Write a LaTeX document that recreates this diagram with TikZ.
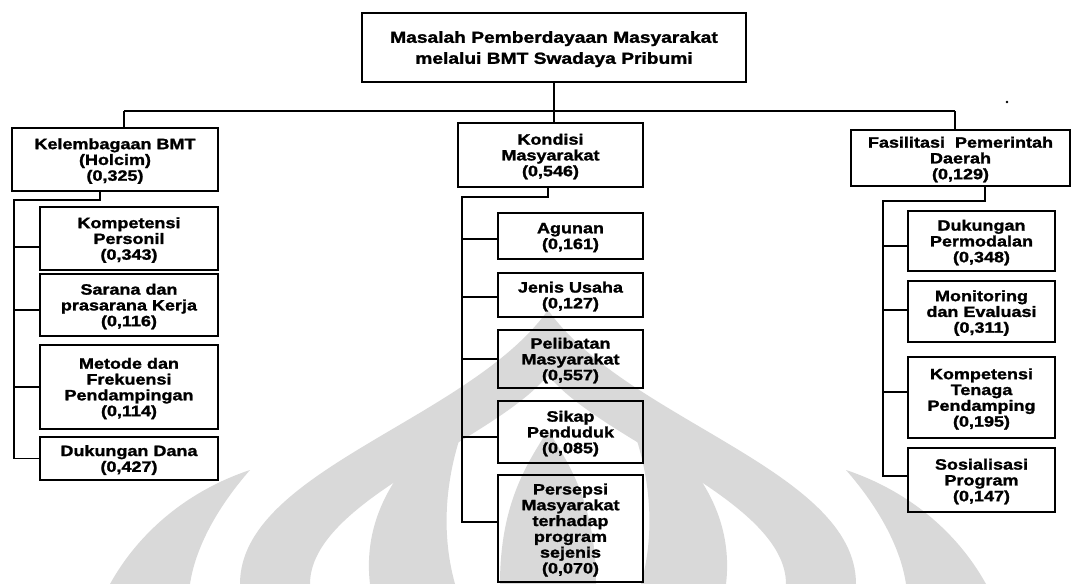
\documentclass[tikz,border=0pt]{standalone}
\usepackage{fontspec}
\setmainfont{Liberation Sans}[FakeStretch=1.2, BoldFeatures={FakeBold=1.5}]
\begin{document}
\begin{tikzpicture}[x=1pt,y=-1pt,
  box/.style={draw=black, line width=1.6pt, inner sep=0pt, align=center,
    font=\fontsize{15}{15.8}\selectfont\bfseries, text depth=-7pt},
  topbox/.style={box, font=\fontsize{16}{21}\selectfont\bfseries},
  conn/.style={draw=black, line width=1.6pt},
  emblem/.style={fill=black!15, draw=none}]
\useasboundingbox (0,0) rectangle (1072,584);
\fill[white] (0,0) rectangle (1072,584);

% watermark emblem in the background
\fill[emblem] (240,584) .. controls (240,470) and (470,420) .. (548,310)
  .. controls (626,420) and (856,470) .. (856,584) -- (786,584)
  .. controls (786,500) and (600,440) .. (548,375)
  .. controls (496,440) and (310,500) .. (310,584) -- cycle;
\fill[emblem] (370,584) .. controls (360,500) and (420,440) .. (470,410)
  .. controls (445,470) and (440,530) .. (455,584) -- cycle;
\fill[emblem] (726,584) .. controls (736,500) and (676,440) .. (626,410)
  .. controls (651,470) and (656,530) .. (641,584) -- cycle;
\fill[emblem] (500,584) .. controls (500,500) and (530,460) .. (548,430)
  .. controls (566,460) and (596,500) .. (596,584) -- cycle;
\fill[emblem] (110,584) .. controls (140,530) and (190,490) .. (250,470)
  .. controls (215,510) and (195,550) .. (190,584) -- cycle;
\fill[emblem] (986,584) .. controls (956,530) and (906,490) .. (846,470)
  .. controls (881,510) and (901,550) .. (906,584) -- cycle;
\fill[black] (1007,102) circle (1.3);

% root
\node[topbox, minimum width=384, minimum height=69] (top) at (554,47.5)
  {Masalah Pemberdayaan Masyarakat\\melalui BMT Swadaya Pribumi};

% criteria
\node[box, minimum width=206, minimum height=63] (L) at (115,159.5)
  {Kelembagaan BMT\\(Holcim)\\(0,325)};
\node[box, minimum width=185, minimum height=64] (M) at (550.5,155)
  {Kondisi\\Masyarakat\\(0,546)};
\node[box, minimum width=219, minimum height=56] (R) at (960.5,158)
  {Fasilitasi\ \ Pemerintah\\Daerah\\(0,129)};

% sub-criteria, left
\node[box, minimum width=178, minimum height=63] (l1) at (129,238.5)
  {Kompetensi\\Personil\\(0,343)};
\node[box, minimum width=178, minimum height=62] (l2) at (129,305)
  {Sarana dan\\prasarana Kerja\\(0,116)};
\node[box, minimum width=178, minimum height=84] (l3) at (129,387)
  {Metode dan\\Frekuensi\\Pendampingan\\(0,114)};
\node[box, minimum width=178, minimum height=43] (l4) at (129,458.5)
  {Dukungan Dana\\(0,427)};

% sub-criteria, middle
\node[box, minimum width=145, minimum height=46] (m1) at (570.5,236)
  {Agunan\\(0,161)};
\node[box, minimum width=145, minimum height=44] (m2) at (570.5,295)
  {Jenis Usaha\\(0,127)};
\node[box, minimum width=145, minimum height=58] (m3) at (570.5,359)
  {Pelibatan\\Masyarakat\\(0,557)};
\node[box, minimum width=145, minimum height=62] (m4) at (570.5,432)
  {Sikap\\Penduduk\\(0,085)};
\node[box, minimum width=145, minimum height=107] (m5) at (570.5,528.5)
  {Persepsi\\Masyarakat\\terhadap\\program\\sejenis\\(0,070)};

% sub-criteria, right
\node[box, minimum width=147, minimum height=60] (r1) at (981.5,241)
  {Dukungan\\Permodalan\\(0,348)};
\node[box, minimum width=147, minimum height=61] (r2) at (981.5,311.5)
  {Monitoring\\dan Evaluasi\\(0,311)};
\node[box, minimum width=147, minimum height=81] (r3) at (981.5,397.5)
  {Kompetensi\\Tenaga\\Pendamping\\(0,195)};
\node[box, minimum width=147, minimum height=64] (r4) at (981.5,480)
  {Sosialisasi\\Program\\(0,147)};

% bus from the root to the criteria
\coordinate (bt) at (554,111);
\coordinate (bl) at (124,111);
\coordinate (br) at (955,111);
\draw[conn] (top.south -| bt) -- (bt);
\draw[conn] (bl) -- (br);
\draw[conn] (bl) -- (bl |- L.north);
\draw[conn] (bt) -- (bt |- M.north);
\draw[conn] (br) -- (br |- R.north);

% left branch
\coordinate (lj) at (100,200);
\coordinate (lr) at (14,200);
\draw[conn] (L.south -| lj) -- (lj) -- (lr) |- (l4.west);
\draw[conn] ([yshift=-8.5]lr |- l1.west) -- ([yshift=-8.5]l1.west);
\draw[conn] ([yshift=-5]lr |- l2.west) -- ([yshift=-5]l2.west);
\draw[conn] (lr |- l3.west) -- (l3.west);

% middle branch
\coordinate (mj) at (548,197);
\coordinate (mr) at (462,197);
\draw[conn] (M.south -| mj) -- (mj) -- (mr) -- ([yshift=6.5]mr |- m5.west) -- ([yshift=6.5]m5.west);
\draw[conn] ([yshift=-3]mr |- m1.west) -- ([yshift=-3]m1.west);
\draw[conn] ([yshift=-2]mr |- m2.west) -- ([yshift=-2]m2.west);
\draw[conn] (mr |- m3.west) -- (m3.west);
\draw[conn] ([yshift=-5]mr |- m4.west) -- ([yshift=-5]m4.west);

% right branch
\coordinate (rj) at (985,201);
\coordinate (rr) at (883,201);
\draw[conn] (R.south -| rj) -- (rj) -- (rr) -- ([yshift=4]rr |- r4.west) -- ([yshift=4]r4.west);
\draw[conn] ([yshift=-5]rr |- r1.west) -- ([yshift=-5]r1.west);
\draw[conn] ([yshift=1.5]rr |- r2.west) -- ([yshift=1.5]r2.west);
\draw[conn] ([yshift=5.5]rr |- r3.west) -- ([yshift=5.5]r3.west);
\end{tikzpicture}
\end{document}
